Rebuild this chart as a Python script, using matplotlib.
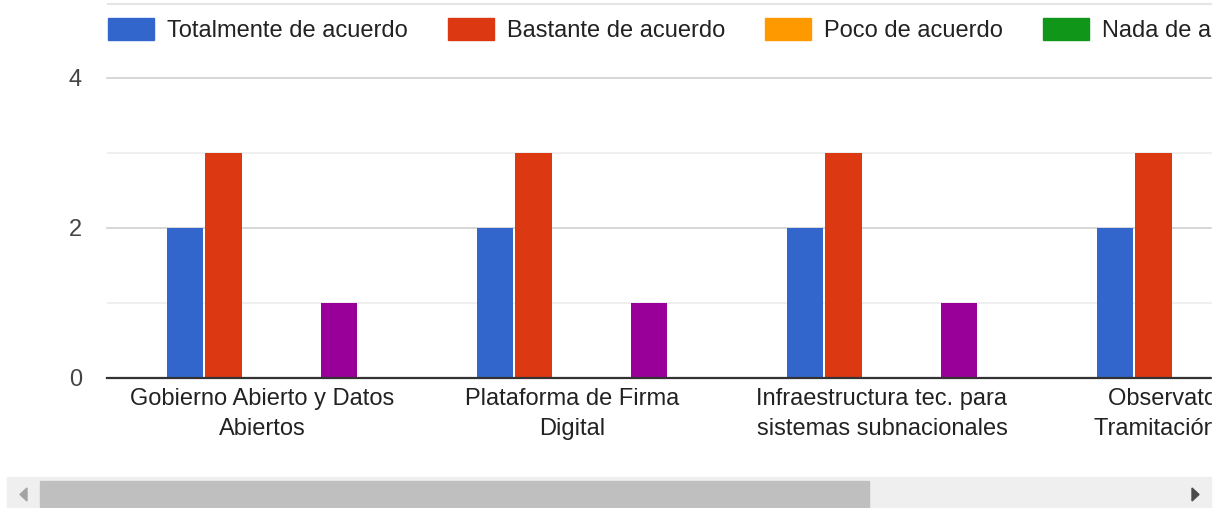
import matplotlib
matplotlib.use("Agg")
import matplotlib.pyplot as plt
from matplotlib.patches import Rectangle, Polygon
import numpy as np

plt.rcParams["font.family"] = ["Liberation Sans", "DejaVu Sans"]

# ---- data -----------------------------------------------------------------
categories = [
    "Gobierno Abierto y Datos\nAbiertos",
    "Plataforma de Firma\nDigital",
    "Infraestructura tec. para\nsistemas subnacionales",
    "Observatorio de\nTramitación Digital",
]
series_names = [
    "Totalmente de acuerdo",
    "Bastante de acuerdo",
    "Poco de acuerdo",
    "Nada de acuerdo",
    "NS/NC",
]
totalmente = [2, 2, 2, 2]
bastante = [3, 3, 3, 3]
poco = [0, 0, 0, 0]
nada = [0, 0, 0, 0]
nsnc = [1, 1, 1, 1]
series_values = [totalmente, bastante, poco, nada, nsnc]
colors = ["#3366cc", "#dc3912", "#ff9900", "#109618", "#990099"]
y_ticks = [0, 2, 4]

# ---- figure geometry (pixels) ---------------------------------------------
W, H = 1225, 508
DPI = 100
fig = plt.figure(figsize=(W / DPI, H / DPI), dpi=DPI)
fig.patch.set_facecolor("white")

def fx(px):
    return px / W

def fy(py):
    return 1 - py / H

group_px = 310          # horizontal room for one category
left_px = 107
y0_px, y4_px = 378, 78  # pixel rows of value 0 and value 4
ytop = 4.06
top_px = y0_px - (y0_px - y4_px) * ytop / 4

n = len(categories)
ax = fig.add_axes([fx(left_px), fy(y0_px), n * group_px / W,
                   (y0_px - top_px) / H])
ax.set_xlim(-0.5, n - 0.5)
ax.set_ylim(0, ytop)
for s in ax.spines.values():
    s.set_visible(False)

# gridlines: major every 2, minor in between
for v in [1, 3]:
    ax.axhline(v, color="#ebebeb", lw=1.1, zorder=0)
for v in [2, 4]:
    ax.axhline(v, color="#cccccc", lw=1.1, zorder=0, clip_on=False)
ax.axhline(0, color="#333333", lw=1.6, zorder=5, clip_on=False)

# bars
slot = 38.5 / group_px
bar_w = 36.5 / group_px
x = np.arange(n)
k = len(series_values)
for i, (vals, c) in enumerate(zip(series_values, colors)):
    ax.bar(x + (i - (k - 1) / 2) * slot, vals, width=bar_w, color=c,
           linewidth=0, zorder=2)

ax.set_yticks(y_ticks)
ax.set_yticklabels([str(t) for t in y_ticks], fontsize=17, color="#444444")
ax.set_xticks(x)
ax.set_xticklabels(categories, fontsize=17, color="#222222",
                   linespacing=1.48, multialignment="center")
ax.tick_params(axis="y", length=0, pad=18)
ax.tick_params(axis="x", length=0, pad=7)

# thin rule along the top
fig.add_artist(plt.Line2D([fx(108), 1], [fy(4), fy(4)], color="#e5e5e5",
                          lw=1.5))

# legend row
renderer = fig.canvas.get_renderer()
lx = 108
for name, c in zip(series_names, colors):
    fig.patches.append(Rectangle((fx(lx), fy(40)), fx(46), 22 / H,
                                 transform=fig.transFigure, color=c))
    t = fig.text(fx(lx + 59), fy(31), name, fontsize=17, color="#222222",
                 va="center", ha="left")
    bb = t.get_window_extent(renderer)
    lx = lx + 59 + bb.width + 40

# the plot area is cut off on the right
fig.patches.append(Rectangle((fx(1212), 0), 1 - fx(1212), 1,
                             transform=fig.transFigure, color="white",
                             zorder=100))

# horizontal scrollbar
fig.patches.append(Rectangle((fx(7), fy(508)), fx(1211 - 7), 31 / H,
                             transform=fig.transFigure, color="#efefef",
                             zorder=101))
fig.patches.append(Rectangle((fx(40), fy(507)), fx(869 - 40), 26 / H,
                             transform=fig.transFigure, color="#bfbfbf",
                             zorder=102))
fig.patches.append(Polygon([(fx(20), fy(494.5)), (fx(27), fy(488)),
                            (fx(27), fy(501))], closed=True,
                           transform=fig.transFigure, color="#a3a3a3",
                           zorder=102))
fig.patches.append(Polygon([(fx(1199), fy(494.5)), (fx(1192), fy(488)),
                            (fx(1192), fy(501))], closed=True,
                           transform=fig.transFigure, color="#4a4a4a",
                           zorder=102))

fig.savefig("out.png", dpi=DPI)
